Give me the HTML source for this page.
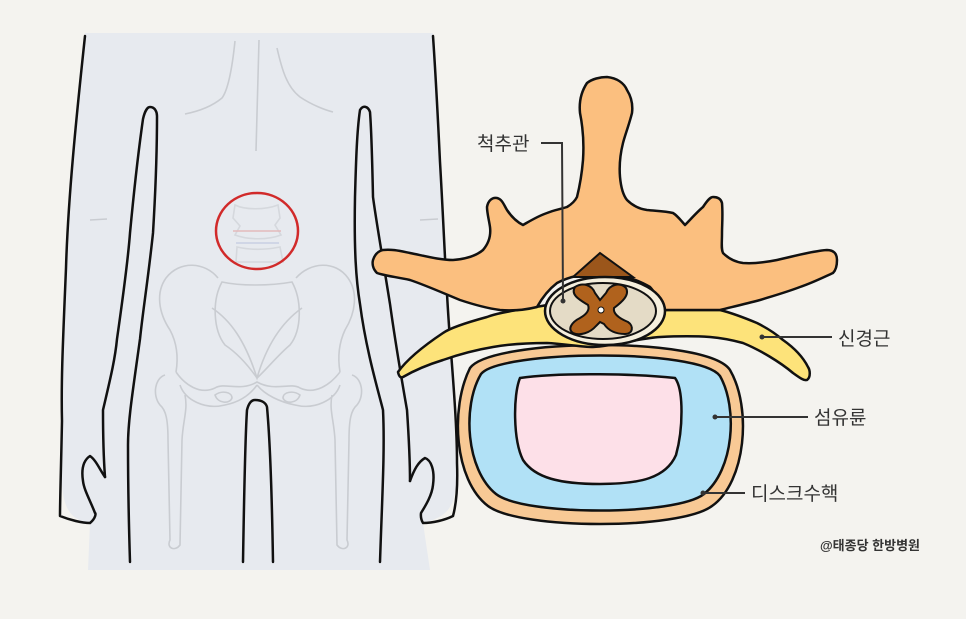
<!DOCTYPE html>
<html><head><meta charset="utf-8"><style>
html,body{margin:0;padding:0;background:#f4f3ef;}
svg{display:block}
text{font-family:"Liberation Sans","Noto Sans CJK KR",sans-serif;fill:#333}
</style></head><body>
<svg width="966" height="619" viewBox="0 0 966 619" xmlns="http://www.w3.org/2000/svg">
<rect width="966" height="619" fill="#f4f3ef"/>
<path d="M85,33 L433,33 C438,120 448,300 456,460 C457,500 455,515 423,523 L430,570 L88,570 L90,523 C62,518 60,500 61,430 C63,320 72,150 85,33 Z" fill="#e7eaef"/>
<g fill="none" stroke="#c9ccd1" stroke-width="1.6">
<path d="M235,41 C232,70 228,90 222,98 C210,108 195,112 185,114"/>
<path d="M259,40 L256,151"/>
<path d="M277,48 C282,70 287,87 300,97 C312,105 325,110 333,112"/>
<path d="M90,220 L107,219"/><path d="M420,220 L438,219"/>
<path d="M218,278 C205,262 180,260 166,278 C156,292 158,312 170,330 C178,345 178,360 176,372"/>
<path d="M296,278 C310,262 335,260 348,278 C358,292 356,312 345,330 C338,345 338,360 340,372"/>
<path d="M222,282 C240,286 270,286 292,282 C302,300 302,330 290,345 C278,355 266,370 257,378 C250,368 240,355 225,345 C213,330 212,300 222,282 Z"/>
<path d="M212,308 C230,320 245,340 257,378 C268,340 285,320 302,308"/>
<path d="M176,372 C185,385 200,395 215,388 C225,382 240,392 257,382 C275,392 290,382 300,388 C315,395 330,385 340,372"/>
<path d="M180,385 C185,400 205,410 225,405 C240,402 250,395 257,385"/>
<path d="M340,385 C335,400 315,410 295,405 C280,402 265,395 257,385"/>
<path d="M215,395 C222,390 232,392 232,398 C230,404 218,404 215,395 Z"/>
<path d="M300,395 C293,390 283,392 283,398 C285,404 297,404 300,395 Z"/>
<path d="M165,375 C155,378 152,395 160,405 C166,410 168,420 168,440 L170,540 C166,548 175,552 180,545 L182,440 C183,420 188,410 185,395"/>
<path d="M352,375 C362,378 365,395 357,405 C351,410 349,420 349,440 L347,540 C351,548 342,552 337,545 L335,440 C334,420 329,410 332,395"/>
<path d="M235,205 C245,210 265,210 278,205 L280,218 L275,225 L281,235 C268,240 248,240 235,235 L240,226 L233,218 Z" stroke="#d5d8dd"/>
<path d="M237,247 C250,250 265,250 280,247 L283,262 L236,262 Z" stroke="#d5d8dd"/>
</g>
<path d="M233,231 L281,231" stroke="#e3b9bb" stroke-width="1.5"/>
<path d="M236,243 L279,243" stroke="#c9cfe3" stroke-width="1.5"/>
<ellipse cx="257" cy="231" rx="41" ry="38" fill="none" stroke="#d12a2a" stroke-width="2.5"/>
<g fill="none" stroke="#111" stroke-width="2.5" stroke-linecap="round" stroke-linejoin="round">
<path d="M85,36 C76,120 68,200 66,268 C63,340 61,380 62,421 C61,470 60,500 60,516 C70,520 82,523 90,523 C96,518 96,513 95,513 C90,500 84,490 83,481 C81,468 84,460 90,456 C96,460 100,470 105,477"/>
<path d="M105,477 C103,450 103,430 103,410 C110,380 115,360 117,339 C124,290 128,260 130,233 C135,180 140,140 143,119 C145,110 148,107 150,107 C155,107 157,112 157,116 C157,160 155,200 153,233 C148,280 143,310 140,339 C133,390 128,420 128,445 C128,490 129,530 130,562"/>
<path d="M433,36 C436,80 438,120 440,162 C444,230 446,290 450,339 C454,390 457,430 457,463 C458,490 456,505 453,516 C445,520 433,523 423,523 C420,518 421,514 421,513 C426,505 432,495 433,485 C435,470 431,460 425,458 C418,462 414,470 410,481"/>
<path d="M410,481 C410,460 409,440 407,410 C400,370 395,340 390,304 C383,260 376,220 373,197 C372,150 371,125 370,112 C368,106 363,105 360,110 C357,130 356,160 355,197 C354,250 356,280 360,304 C366,350 378,390 383,410 C385,450 382,500 380,562"/>
<path d="M243,562 C244,500 245,440 247,410 C249,402 252,400 255,400 C262,400 266,403 267,407 C270,440 272,500 273,562"/>
</g>
<!-- disc -->
<path d="M470,368 C492,338 708,336 730,370 C752,408 746,482 712,506 C680,530 520,530 488,506 C454,480 450,408 470,368 Z" fill="#f8c995" stroke="#111" stroke-width="2.5"/>
<path d="M481,374 C500,350 700,348 720,376 C738,408 734,470 704,494 C676,516 524,516 496,494 C466,470 462,406 481,374 Z" fill="#b1e1f6" stroke="#111" stroke-width="2.5"/>
<path d="M520,378 C560,372 640,374 675,378 C684,390 683,430 676,455 C666,478 640,484 600,484 C560,484 535,478 523,460 C513,440 513,395 520,378 Z" fill="#fde0e8" stroke="#111" stroke-width="2.5"/>
<!-- nerve -->
<path d="M547,305 C520,310 500,312 487,317 C465,323 450,328 443,333 C425,345 408,358 398,372 C399,377 401,378 403,377 C415,370 430,364 443,360 C460,354 475,350 493,347 C510,344 530,343 547,343 C565,344 580,347 593,347 C615,346 640,338 660,337 C680,336 695,336 710,337 C722,338 732,340 743,343 C760,350 780,362 793,373 C800,378 804,381 807,380 C811,377 810,370 808,367 C802,355 793,347 783,340 C775,333 765,327 757,323 C745,318 732,313 720,310 L663,310 Z" fill="#fde37a" stroke="#111" stroke-width="2.5" stroke-linejoin="round"/>
<path d="M607,77 C617,78 624,83 627,90 C632,98 633,105 632,113 C629,125 625,135 623,143 C620,155 619,165 620,177 C621,188 623,195 627,200 C633,206 640,209 647,210 C657,211 665,211 673,213 C678,216 682,222 685,225 C690,220 697,212 703,207 C707,201 710,197 713,197 C718,197 721,199 722,203 C723,215 722,225 722,233 C722,243 721,249 723,253 C728,258 735,262 743,263 C755,264 767,262 777,260 C795,256 812,251 827,250 C834,250 837,254 837,260 C837,266 836,270 833,273 C822,278 812,283 800,287 C787,292 773,296 760,300 C745,304 732,307 720,310 L663,310 C658,300 655,292 650,287 C635,278 615,273 600,273 C585,273 568,277 557,283 C548,290 542,298 537,307 C525,310 512,311 500,310 C485,308 472,304 460,300 C443,293 425,285 410,280 C397,277 385,276 377,273 C373,269 372,264 373,260 C375,254 378,251 383,250 C392,249 400,251 410,253 C425,256 440,260 453,260 C466,259 476,256 483,250 C489,243 491,235 490,227 C489,220 487,213 487,207 C488,201 492,197 497,198 C502,199 504,205 507,210 C511,216 517,222 523,225 C530,221 538,216 547,213 C554,210 561,209 567,207 C572,204 575,201 577,197 C580,185 582,172 583,160 C584,145 583,128 580,113 C579,103 581,92 587,83 C592,79 600,77 607,77 Z" fill="#fbbf7f" stroke="#111" stroke-width="2.5" stroke-linejoin="round"/>
<path d="M600,253 L573,277 L633,277 Z" fill="#9b561b" stroke="#111" stroke-width="2"/>
<ellipse cx="605" cy="311" rx="60" ry="34" fill="#f5efdd" stroke="#111" stroke-width="2.5"/>
<ellipse cx="603" cy="311" rx="53" ry="28" fill="#e4dbc6" stroke="#111" stroke-width="2"/>
<path d="M575,287 C583,282 592,285 595,293 L600,300 L606,293 C610,284 620,282 626,288 C630,295 622,302 614,308 C613,313 618,318 628,322 C634,326 633,334 625,334 C615,334 608,330 604,324 L600,322 L596,326 C590,333 580,336 573,333 C567,329 572,322 580,318 C587,314 590,310 588,305 C580,300 570,295 575,287 Z" fill="#b0621d" stroke="#111" stroke-width="2"/>
<circle cx="601" cy="310" r="3" fill="#fff" stroke="#111" stroke-width="1"/>
<g stroke="#333" stroke-width="2" fill="none">
<path d="M541,143 L562,143 L563,300"/>
<path d="M762,337 L832,337"/>
<path d="M715,417 L808,417"/>
<path d="M703,493 L745,493"/>
</g>
<g fill="#333"><circle cx="563" cy="301" r="2.5"/><circle cx="762" cy="337" r="2.5"/><circle cx="715" cy="417" r="2.5"/><circle cx="703" cy="493" r="2.5"/></g>
<text x="477" y="150" font-size="19">척추관</text>
<text x="838" y="345" font-size="19">신경근</text>
<text x="814" y="424" font-size="19">섬유륜</text>
<text x="751" y="500" font-size="19">디스크수핵</text>
<text x="820" y="550" font-size="13" font-weight="bold" fill="#222">@태종당 한방병원</text>
</svg>
</body></html>
